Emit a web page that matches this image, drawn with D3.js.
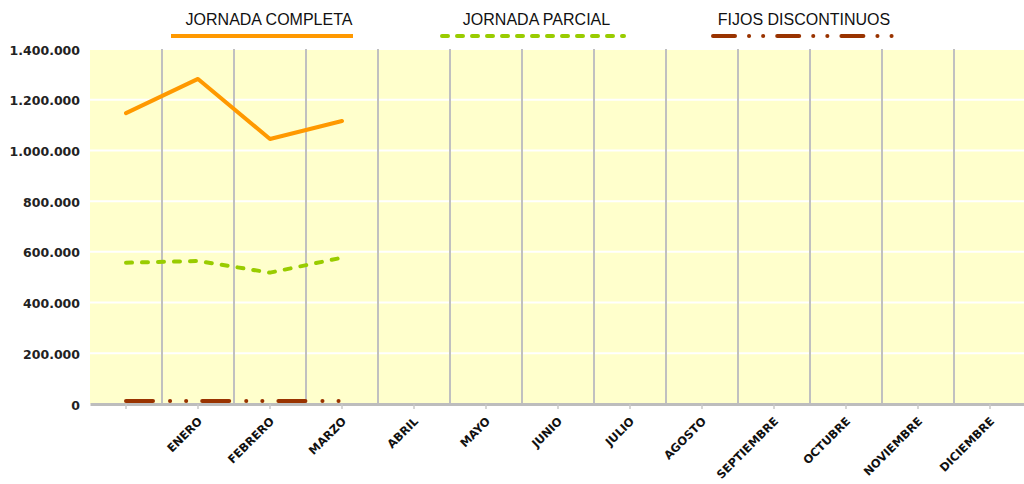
<!DOCTYPE html>
<html>
<head>
<meta charset="utf-8">
<script src="https://cdn.jsdelivr.net/npm/d3@7"></script>
<style>
  body { margin: 0; background: #fff; }
  svg { display: block; }
</style>
</head>
<body>
<svg id="chart" width="1024" height="484"></svg>
<script>
// categories (first slot is unlabeled, as in the source sheet)
let months = ["", "ENERO", "FEBRERO", "MARZO", "ABRIL", "MAYO", "JUNIO", "JULIO", "AGOSTO", "SEPTIEMBRE", "OCTUBRE", "NOVIEMBRE", "DICIEMBRE"];
let completa = [1147000, 1282000, 1045000, 1116000];
let parcial = [557000, 564000, 518000, 577000];
let fijos = [12000, 12000, 12000, 12000];
let yTicks = [0, 200000, 400000, 600000, 800000, 1000000, 1200000, 1400000];

let series = [
    { name: "JORNADA COMPLETA", values: completa, color: "#ff9900", dash: null, legendDash: null },
    { name: "JORNADA PARCIAL", values: parcial, color: "#99cc00", dash: "6,10", legendDash: "6,9" },
    { name: "FIJOS DISCONTINUOS", values: fijos, color: "#993300", dash: "27,17,0.1,16,0.1,16", legendDash: "22,14,0.1,14,0.1,14" }
];

var svg = d3.select("#chart");
const plotLeft = 90, plotRight = 1026, plotTop = 49, plotBottom = 404;

let x = d3.scaleBand().domain(months).range([plotLeft, plotRight]);
let y = d3.scaleLinear().domain([0, 1400000]).range([plotBottom, plotTop]);

let es = d3.formatLocale({ decimal: ",", thousands: ".", grouping: [3], currency: ["", "€"] });
let fmt = es.format(",");

// plot background
svg.append("rect")
    .attr("x", plotLeft).attr("y", plotTop)
    .attr("width", plotRight - plotLeft).attr("height", plotBottom - plotTop)
    .attr("fill", "#ffffcc");

// horizontal white gridlines
svg.append("g").selectAll("line")
    .data(yTicks.slice(1))
    .enter().append("line")
    .attr("x1", plotLeft).attr("x2", plotRight)
    .attr("y1", d => y(d)).attr("y2", d => y(d))
    .attr("stroke", "#ffffff").attr("stroke-width", 2);

// vertical gridlines between categories
svg.append("g").selectAll("line")
    .data(months.slice(1))
    .enter().append("line")
    .attr("x1", d => x(d)).attr("x2", d => x(d))
    .attr("y1", plotTop).attr("y2", plotBottom)
    .attr("stroke", "#c0c0c0").attr("stroke-width", 2);

// y labels
svg.append("g").selectAll("text")
    .data(yTicks)
    .enter().append("text")
    .attr("x", 80)
    .attr("y", d => y(d) + 1)
    .attr("dy", "0.36em")
    .attr("text-anchor", "end")
    .style("font-family", "'DejaVu Sans', sans-serif")
    .style("font-weight", "bold")
    .style("font-size", "12.5px")
    .attr("fill", "#222")
    .text(d => fmt(d));

// x axis
var xAxis = d3.axisBottom(x).tickSize(5).tickSizeOuter(0);
let gx = svg.append("g")
    .attr("transform", "translate(0," + plotBottom + ")")
    .call(xAxis);
gx.select(".domain").attr("stroke", "#bdbdbd").attr("stroke-width", 3);
gx.selectAll(".tick line").attr("stroke", "#c8c8c8").attr("stroke-width", 1.5);
gx.selectAll(".tick text")
    .attr("y", 0).attr("dy", 0)
    .attr("text-anchor", "end")
    .attr("transform", "translate(5,18) rotate(-45)")
    .style("font-family", "'DejaVu Sans', sans-serif")
    .style("font-weight", "bold")
    .style("font-size", "11.5px")
    .attr("fill", "#111");

// lines
let line = d3.line()
    .x((d, i) => x(months[i]) + x.bandwidth() / 2)
    .y(d => y(d));

svg.append("g").selectAll("path")
    .data(series)
    .enter().append("path")
    .attr("d", d => line(d.values))
    .attr("fill", "none")
    .attr("stroke", d => d.color)
    .attr("stroke-width", 4)
    .attr("stroke-linecap", "round")
    .attr("stroke-linejoin", "round")
    .attr("stroke-dasharray", d => d.dash);

// legend
let names = series.map(d => d.name);
let legendLine = d3.scalePoint().domain(names).range([262, 804]);
let legendText = d3.scalePoint().domain(names).range([269, 804]);

svg.append("g").selectAll("text")
    .data(series)
    .enter().append("text")
    .attr("x", d => legendText(d.name)).attr("y", 25)
    .attr("text-anchor", "middle")
    .style("font-family", "'Liberation Sans', sans-serif")
    .style("font-size", "16px")
    .attr("fill", "#111")
    .text(d => d.name);

svg.append("g").selectAll("line")
    .data(series)
    .enter().append("line")
    .attr("x1", d => legendLine(d.name) - 91).attr("x2", d => legendLine(d.name) + 91)
    .attr("y1", 36).attr("y2", 36)
    .attr("stroke", d => d.color)
    .attr("stroke-width", 4)
    .attr("stroke-linecap", d => d.legendDash ? "round" : "butt")
    .attr("stroke-dasharray", d => d.legendDash);
</script>
</body>
</html>
